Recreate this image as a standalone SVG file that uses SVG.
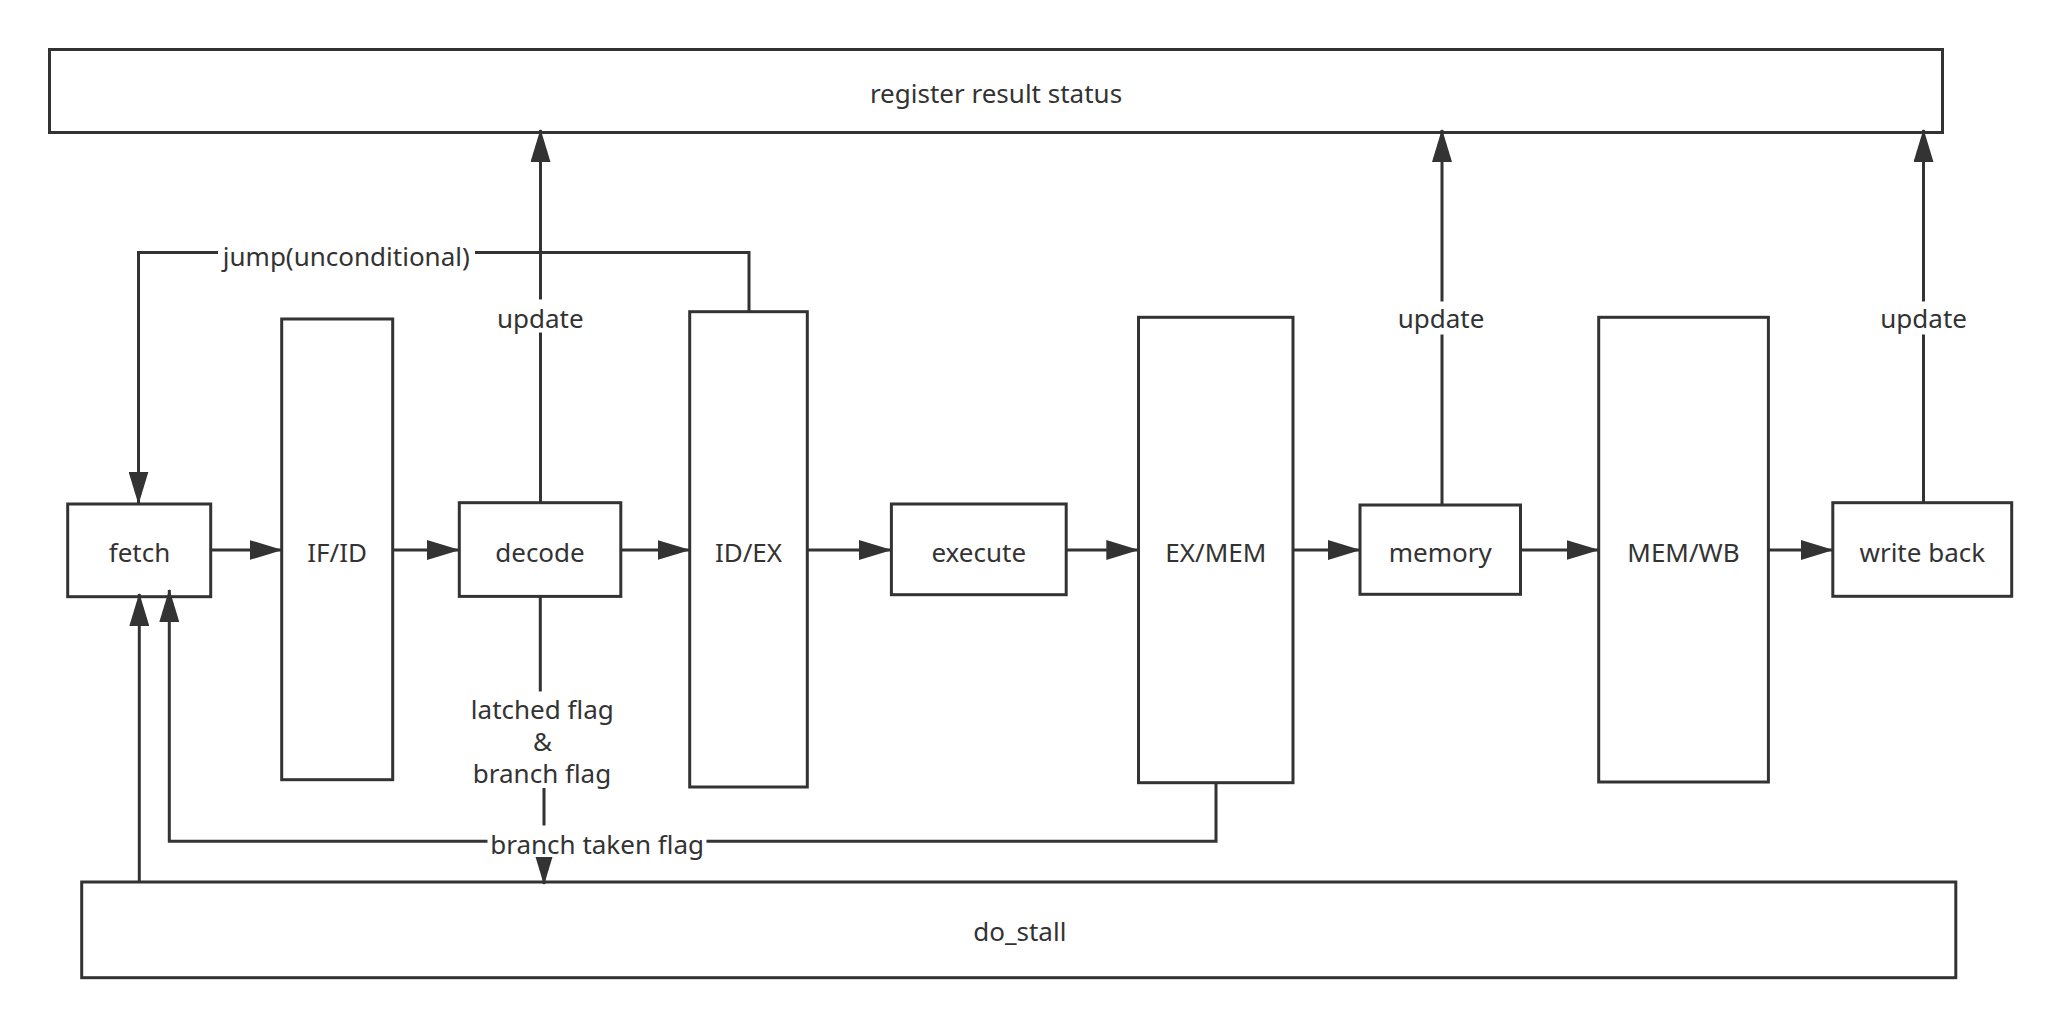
<svg xmlns="http://www.w3.org/2000/svg" width="2061" height="1027" viewBox="0 0 2061 1027">
<style>
.box{fill:#fff;stroke:#333;stroke-width:3}
.ln{fill:none;stroke:#333;stroke-width:3}
.arr{marker-end:url(#ah)}
text{font-family:"Noto Sans","Open Sans","Liberation Sans",sans-serif;font-size:26px;fill:#333;text-anchor:middle}
.bg{fill:#fff}
</style>
<defs>
<marker id="ah" markerUnits="userSpaceOnUse" markerWidth="33" markerHeight="20" viewBox="0 0 33 20" refX="32" refY="10" orient="auto">
<path d="M0,0 L33,10 L0,20 z" fill="#333"/>
</marker>
</defs>
<rect width="2061" height="1027" fill="#fff"/>
<g id="register">
<rect class="box" x="49.5" y="49.5" width="1893" height="83"/>
<text x="996" y="103">register result status</text>
</g>
<g id="fetch">
<rect class="box" x="67.7" y="504" width="143" height="92.7"/>
<text x="139.5" y="561.5">fetch</text>
</g>
<g id="ifid">
<rect class="box" x="281.7" y="319" width="111" height="460.7"/>
<text x="337.2" y="561.5">IF/ID</text>
</g>
<g id="decode">
<rect class="box" x="459.3" y="502.7" width="161.5" height="93.7"/>
<text x="540" y="561.5">decode</text>
</g>
<g id="idex">
<rect class="box" x="689.7" y="311.7" width="117.6" height="475.3"/>
<text x="748.5" y="561.5">ID/EX</text>
</g>
<g id="execute">
<rect class="box" x="891.4" y="504" width="174.8" height="90.7"/>
<text x="978.8" y="561.5">execute</text>
</g>
<g id="exmem">
<rect class="box" x="1138.5" y="317.3" width="154.5" height="465.4"/>
<text x="1215.8" y="561.5">EX/MEM</text>
</g>
<g id="memory">
<rect class="box" x="1360" y="505" width="160.5" height="89.3"/>
<text x="1440.3" y="561.5">memory</text>
</g>
<g id="memwb">
<rect class="box" x="1598.7" y="317.3" width="169.7" height="464.7"/>
<text x="1683.5" y="561.5">MEM/WB</text>
</g>
<g id="writeback">
<rect class="box" x="1832.8" y="502.7" width="178.9" height="93.6"/>
<text x="1922.3" y="561.5">write back</text>
</g>
<g id="dostall">
<rect class="box" x="81.7" y="882" width="1874.1" height="95.7"/>
<text x="1019.8" y="940.5">do_stall</text>
</g>
<g id="connectors">
<path class="ln arr" d="M749,311.7 V252.5 H138.5 V503.5"/>
<path class="ln arr" d="M540.5,502.7 V130"/>
<path class="ln arr" d="M1442,505 V130"/>
<path class="ln arr" d="M1923.5,502.7 V130"/>
<path class="ln arr" d="M211,550 H281.5"/>
<path class="ln arr" d="M393,550 H459"/>
<path class="ln arr" d="M621,550 H689.5"/>
<path class="ln arr" d="M807.3,550 H891"/>
<path class="ln arr" d="M1066.2,550 H1138.3"/>
<path class="ln arr" d="M1293,550 H1359.8"/>
<path class="ln arr" d="M1520.5,550 H1598.5"/>
<path class="ln arr" d="M1768.4,550 H1832.6"/>
<path class="ln arr" d="M139.3,882 V594"/>
<path class="ln arr" d="M1216,782.7 V841.3 H169.3 V590"/>
<path class="ln arr" d="M540.3,596.4 V740 H544 V884"/>
<rect class="bg" x="218" y="240" width="257" height="30"/>
<text x="346.3" y="266">jump(unconditional)</text>
<rect class="bg" x="495" y="299.5" width="91" height="33"/>
<text x="540.3" y="328.3">update</text>
<rect class="bg" x="1396" y="301.5" width="91" height="33"/>
<text x="1441" y="328.3">update</text>
<rect class="bg" x="1878" y="301.5" width="91" height="33"/>
<text x="1923.6" y="328.3">update</text>
<rect class="bg" x="468" y="691.5" width="149" height="96.5"/>
<text x="542.3" y="719.3">latched flag<tspan x="542.6" y="751">&amp;</tspan><tspan x="542" y="783">branch flag</tspan></text>
<rect class="bg" x="487.5" y="825.5" width="219" height="31.5"/>
<text x="597.1" y="853.7">branch taken flag</text>
</g>
</svg>
